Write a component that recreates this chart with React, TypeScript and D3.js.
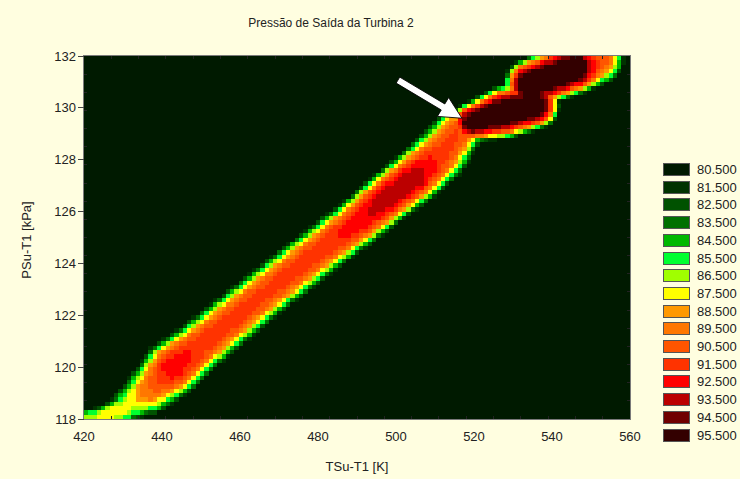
import React, { useEffect, useRef } from 'react';
import * as d3 from 'd3';

const W = 740;
const H = 479;

const legendLevels = [80.5, 81.5, 82.5, 83.5, 84.5, 85.5, 86.5, 87.5, 88.5, 89.5, 90.5, 91.5, 92.5, 93.5, 94.5, 95.5];
const legendColors = [
  '#001a00', '#003300', '#005200', '#007000', '#00b800', '#00ff30', '#a0ff00', '#ffff00',
  '#ff9900', '#ff7700', '#ff5500', '#ff3300', '#ff0000', '#bb0000', '#700000', '#330000',
];
const xTicks = [420, 440, 460, 480, 500, 520, 540, 560];
const yTicks = [118, 120, 122, 124, 126, 128, 130, 132];

// ridges of the surface (T in K, P in kPa, value, spread in kPa)
const bandT = [431.3, 436.9, 442.8, 449.7, 466.2, 483.1, 489.0, 498.5, 504.9, 511.3, 515.9];
const bandP = [118.54, 119.12, 119.97, 120.82, 122.82, 124.79, 125.44, 126.6, 127.33, 128.18, 129.07];
const bandPeak = [86.5, 89.5, 92.3, 91.2, 90.8, 91.2, 92.0, 93.3, 93.3, 91.0, 90.5];
const bandSpread = [0.66, 0.96, 1.18, 1.05, 1.0, 1.0, 1.0, 1.05, 1.08, 1.12, 0.98];

const tailT = [420.0, 425.4, 430.5];
const tailP = [118.04, 118.12, 118.42];
const tailPeak = [85.5, 87.3, 87.0];
const tailSpread = [0.34, 0.38, 0.6];

const lowerLobeT = [519.5, 527.2, 535.6];
const lowerLobeP = [129.45, 129.8, 130.1];
const lowerLobePeak = [96.0, 96.5, 96.3];
const lowerLobeSpread = [0.8, 1.06, 0.98];

const upperLobeT = [534.4, 546.0, 552.3];
const upperLobeP = [130.92, 131.53, 131.84];
const upperLobePeak = [96.5, 96.5, 90.0];
const upperLobeSpread = [1.02, 1.04, 0.95];

// arrow annotation (tail -> tip) in data units
const arrowT = [500.5, 516.9];
const arrowP = [131.07, 129.6];

const baseValue = 80;

export default function App() {
  const svgRef = useRef(null);

  useEffect(() => {
    const svg = d3.select(svgRef.current);
    svg.selectAll('*').remove();

    const left = 84, right = 630, top = 56, bottom = 419;
    const x = d3.scaleLinear().domain([420, 560]).range([left, right]);
    const y = d3.scaleLinear().domain([118, 132]).range([bottom, top]);
    const color = d3.scaleThreshold().domain(legendLevels.slice(0, 15)).range(legendColors);
    const pxPerKPa = Math.abs(y(1) - y(0));

    const ridges = [
      { T: bandT, P: bandP, peak: bandPeak, spread: bandSpread },
      { T: tailT, P: tailP, peak: tailPeak, spread: tailSpread },
      { T: lowerLobeT, P: lowerLobeP, peak: lowerLobePeak, spread: lowerLobeSpread },
      { T: upperLobeT, P: upperLobeP, peak: upperLobePeak, spread: upperLobeSpread },
    ];

    const field = (px, py) => {
      let best = baseValue;
      ridges.forEach(r => {
        for (let i = 0; i < r.T.length - 1; i++) {
          const ax = x(r.T[i]), ay = y(r.P[i]);
          const bx = x(r.T[i + 1]), by = y(r.P[i + 1]);
          const dx = bx - ax, dy = by - ay;
          const len2 = dx * dx + dy * dy;
          let t = len2 > 0 ? ((px - ax) * dx + (py - ay) * dy) / len2 : 0;
          t = Math.max(0, Math.min(1, t));
          const d = Math.hypot(px - (ax + t * dx), py - (ay + t * dy));
          const peak = r.peak[i] + t * (r.peak[i + 1] - r.peak[i]);
          const w = (r.spread[i] + t * (r.spread[i + 1] - r.spread[i])) * pxPerKPa;
          const h = Math.max(0, 1 - Math.pow(d / w, 2.5));
          const v = baseValue + (peak - baseValue) * h;
          if (v > best) best = v;
        }
      });
      return best;
    };

    svg.attr('width', W).attr('height', H);
    svg.append('rect').attr('width', W).attr('height', H).attr('fill', '#fffee0');

    // raster cells
    const nx = 127, ny = 84;
    const cx = d3.scaleLinear().domain([0, nx]).range([left, right]);
    const cy = d3.scaleLinear().domain([0, ny]).range([top, bottom]);
    const cells = svg.append('g');
    for (let j = 0; j < ny; j++) {
      const py = (cy(j) + cy(j + 1)) / 2;
      let runStart = 0;
      let runColor = null;
      for (let i = 0; i <= nx; i++) {
        const c = i < nx ? color(field((cx(i) + cx(i + 1)) / 2, py)) : null;
        if (c !== runColor) {
          if (runColor !== null) {
            const x0 = Math.round(cx(runStart)), x1 = Math.round(cx(i));
            const y0 = Math.round(cy(j)), y1 = Math.round(cy(j + 1));
            cells.append('rect')
              .attr('x', x0).attr('y', y0)
              .attr('width', x1 - x0).attr('height', y1 - y0)
              .attr('fill', runColor)
              .attr('shape-rendering', 'crispEdges');
          }
          runStart = i;
          runColor = c;
        }
      }
    }

    // frame
    svg.append('rect')
      .attr('x', left - 0.5).attr('y', top - 0.5)
      .attr('width', right - left + 1).attr('height', bottom - top + 1)
      .attr('fill', 'none').attr('stroke', '#7a7a7a');

    // small inner ticks
    const inner = svg.append('g').attr('stroke', '#222').attr('shape-rendering', 'crispEdges');
    d3.range(1, 20).forEach(k => {
      const xv = x(420 + k * 7);
      inner.append('line').attr('x1', xv).attr('x2', xv).attr('y1', top).attr('y2', top + 3);
      inner.append('line').attr('x1', xv).attr('x2', xv).attr('y1', bottom).attr('y2', bottom - 3);
      const yv = y(118 + k * 0.7);
      inner.append('line').attr('x1', left).attr('x2', left + 3).attr('y1', yv).attr('y2', yv);
      inner.append('line').attr('x1', right).attr('x2', right - 3).attr('y1', yv).attr('y2', yv);
    });

    const font = 'Liberation Sans, Arial, sans-serif';

    // y axis
    yTicks.forEach(v => {
      svg.append('line')
        .attr('x1', left - 6).attr('x2', left).attr('y1', y(v)).attr('y2', y(v))
        .attr('stroke', '#444').attr('shape-rendering', 'crispEdges');
      svg.append('text')
        .attr('x', left - 8).attr('y', y(v)).attr('dy', '0.35em')
        .attr('text-anchor', 'end').attr('font-family', font).attr('font-size', 13)
        .attr('fill', '#222').text(v);
    });

    // x axis
    xTicks.forEach(v => {
      svg.append('text')
        .attr('x', x(v)).attr('y', 441)
        .attr('text-anchor', 'middle').attr('font-family', font).attr('font-size', 13)
        .attr('fill', '#222').text(v);
    });

    svg.append('text')
      .attr('x', (left + right) / 2).attr('y', 471)
      .attr('text-anchor', 'middle').attr('font-family', font).attr('font-size', 13)
      .attr('fill', '#222').text('TSu-T1 [K]');

    svg.append('text')
      .attr('transform', `translate(31, 240) rotate(-90)`)
      .attr('text-anchor', 'middle').attr('font-family', font).attr('font-size', 13)
      .attr('fill', '#222').text('PSu-T1 [kPa]');

    svg.append('text')
      .attr('x', 331).attr('y', 27)
      .attr('text-anchor', 'middle').attr('font-family', font).attr('font-size', 12)
      .attr('fill', '#222').text('Pressão de Saída da Turbina 2');

    // arrow
    const ax0 = x(arrowT[0]), ay0 = y(arrowP[0]);
    const ax1 = x(arrowT[1]), ay1 = y(arrowP[1]);
    const ang = Math.atan2(ay1 - ay0, ax1 - ax0);
    const len = Math.hypot(ax1 - ax0, ay1 - ay0);
    const headL = 22, headW = 11, shaftW = 3.5;
    const pts = [
      [0, -shaftW], [len - headL, -shaftW], [len - headL, -headW], [len, 0],
      [len - headL, headW], [len - headL, shaftW], [0, shaftW],
    ];
    svg.append('polygon')
      .attr('points', pts.map(p => p.join(',')).join(' '))
      .attr('transform', `translate(${ax0},${ay0}) rotate(${(ang * 180) / Math.PI})`)
      .attr('fill', '#fff').attr('stroke', '#000').attr('stroke-width', 0.8);

    // legend
    const lg = svg.append('g');
    legendLevels.forEach((lv, k) => {
      const yy = 163 + k * 17.7;
      lg.append('rect')
        .attr('x', 663.5).attr('y', Math.round(yy) + 0.5)
        .attr('width', 26).attr('height', 12)
        .attr('fill', legendColors[k]).attr('stroke', '#555');
      lg.append('text')
        .attr('x', 697).attr('y', Math.round(yy) + 6).attr('dy', '0.35em')
        .attr('font-family', font).attr('font-size', 13).attr('fill', '#222')
        .text(lv.toFixed(3));
    });
  }, []);

  return <svg ref={svgRef} style={{ position: 'absolute', left: 0, top: 0 }}></svg>;
}
